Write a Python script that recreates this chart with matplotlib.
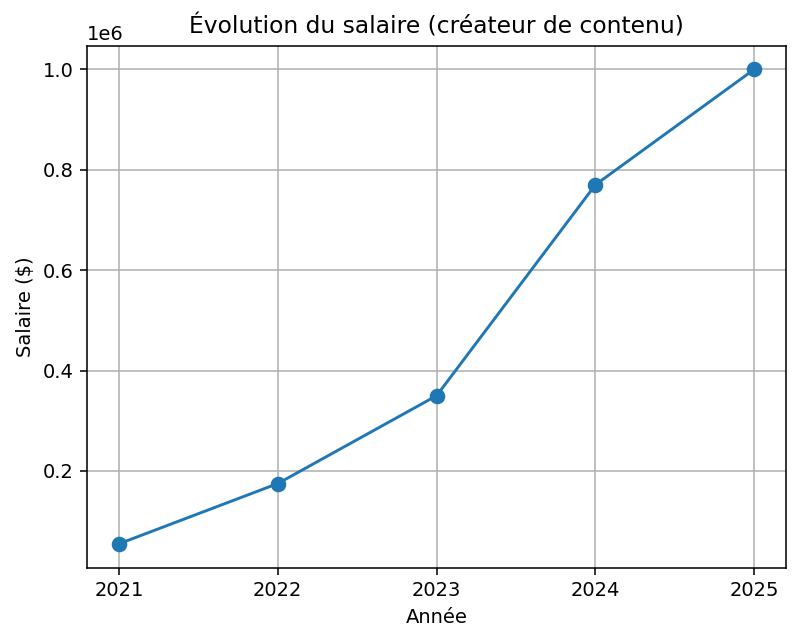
import matplotlib
matplotlib.use('Agg')
import matplotlib.pyplot as plt

annees = [2021, 2022, 2023, 2024, 2025]
salaires = [55000, 175000, 350000, 770000, 1000000]

fig = plt.figure(figsize=(800/140, 642/140), dpi=140)
plt.plot(annees, salaires, marker='o', markersize=7)
plt.title("Évolution du salaire (créateur de contenu)", fontsize=12)
plt.xlabel("Année")
plt.ylabel("Salaire ($)")
plt.xticks(annees)
plt.grid(True)
plt.subplots_adjust(left=0.109, right=0.9825, top=0.929, bottom=0.116)
plt.savefig("out.png", dpi=140)
